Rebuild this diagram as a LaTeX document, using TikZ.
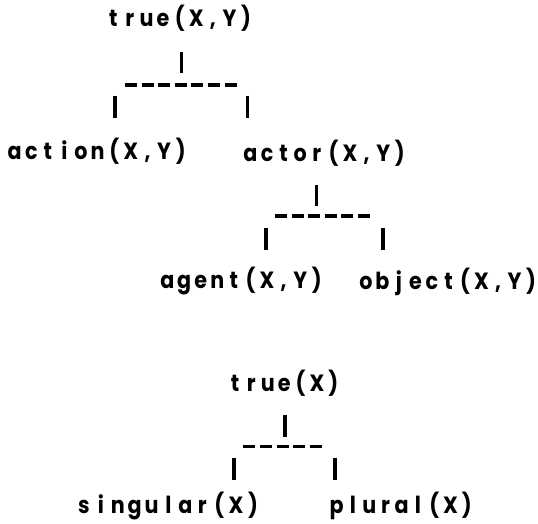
\documentclass[tikz,border=0pt]{standalone}
\usepackage{fontspec}
\setmainfont{Poppins}[FakeStretch=0.88]
\ExplSyntaxOn
\NewDocumentCommand\monotext{O{16.6pt}m}{\tl_map_inline:nn {#2} {\makebox[#1][c]{##1}}}
\ExplSyntaxOff
\tikzset{
  lbl/.style={inner sep=0pt, outer sep=0pt, anchor=base west, font=\fontsize{23.5}{23.5}\selectfont\bfseries},
  bar/.style={line width=3.1pt},
  dashrow/.style={line width=3.4pt, dash pattern=on 12pt off 4.6pt}
}
\begin{document}
\begin{tikzpicture}[x=1pt,y=1pt]
\useasboundingbox (0,0) rectangle (538,-524);
\fill[white] (0,0) rectangle (538,-524);
% labels
\node[lbl] (t1) at (105.0,-26.7) {\monotext{true(X,Y)}};
\node[lbl] (action) at (6.4,-160) {\monotext{action(X,Y)}};
\node[lbl] (actor) at (242.2,-161) {\monotext{actor(X,Y)}};
\node[lbl] (agent) at (159.2,-288) {\monotext{agent(X,Y)}};
\node[lbl] (object) at (357.75,-289) {\monotext[16.5pt]{object(X,Y)}};
\node[lbl] (t2) at (226.8,-391.7) {\monotext[16.4pt]{true(X)}};
\node[lbl] (singular) at (75.55,-513) {\monotext[16.9pt]{singular(X)}};
\node[lbl] (plural) at (328.6,-513) {\monotext[16.25pt]{plural(X)}};
% junction coordinates
\coordinate (jA) at (181.7,-85);
\coordinate (jB) at (316.7,-216);
\coordinate (jC) at (285,-446.7);
% tree A
\draw[bar] (jA) ++(0,33) -- ++(0,-21);
\draw[dashrow] (jA) ++(-56.7,0) -- ++(111.7,0);
\draw[bar] (jA) ++(-66.7,-11) -- ++(0,-22);
\draw[bar] (jA) ++(65.6,-11) -- ++(0,-22);
% tree B
\draw[bar] (jB) ++(0,31) -- ++(0,-20.7);
\draw[dashrow] (jB) ++(-41.7,0) -- ++(95,0);
\draw[bar] (jB) ++(-50.7,-12) -- ++(0,-22);
\draw[bar] (jB) ++(66.3,-12) -- ++(0,-22);
% tree C
\draw[bar] (jC) ++(0,31.7) -- ++(0,-21.7);
\draw[dashrow] (jC) ++(-41.7,0) -- ++(78.4,0);
\draw[bar] (jC) ++(-51,-11) -- ++(0,-22.3);
\draw[bar] (jC) ++(50,-11) -- ++(0,-22.3);
\end{tikzpicture}
\end{document}
